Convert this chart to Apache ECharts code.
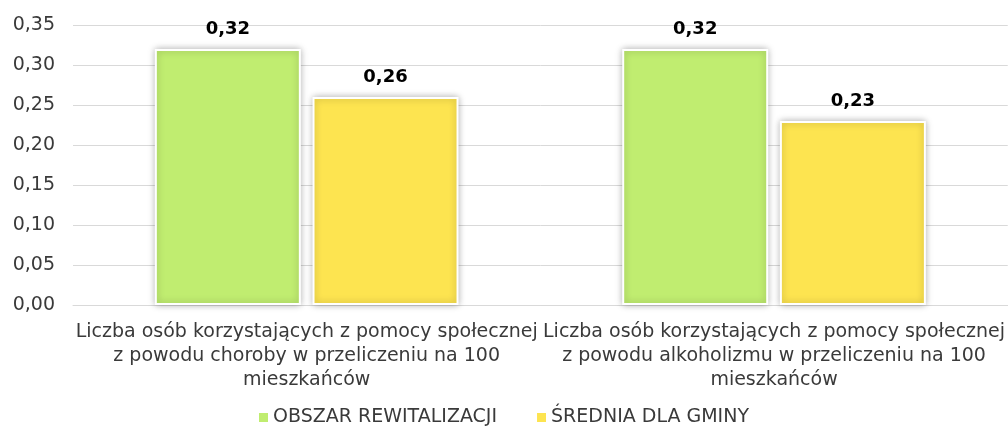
<!DOCTYPE html>
<html>
<head>
<meta charset="utf-8">
<script src="https://cdn.jsdelivr.net/npm/echarts@6/dist/echarts.min.js"></script>
<style>
  html, body { margin: 0; padding: 0; background: #fff; }
  #chart { width: 1008px; height: 435px; }
</style>
</head>
<body>
<div id="chart"></div>
<script>
// Categories, series and axis settings
const categories = [
  'Liczba osób korzystających z pomocy społecznej\nz powodu choroby w przeliczeniu na 100\nmieszkańców',
  'Liczba osób korzystających z pomocy społecznej\nz powodu alkoholizmu w przeliczeniu na 100\nmieszkańców'
];
const seriesNames = ['OBSZAR REWITALIZACJI', 'ŚREDNIA DLA GMINY'];
const obszarValues = [0.32, 0.32];
const gminaValues = [0.26, 0.23];
const yMin = 0, yMax = 0.35, yStep = 0.05;

const FONT = 'DejaVu Sans';
const TEXT = '#3a3a3a';
const fmt = v => v.toFixed(2).replace('.', ',');

const chart = echarts.init(document.getElementById('chart'));

const barStyle = color => ({
  color: color,
  borderColor: '#ffffff',
  borderWidth: 2,
  shadowColor: 'rgba(0,0,0,0.3)',
  shadowBlur: 7
});

const valueLabel = {
  show: true,
  position: 'top',
  distance: 11,
  formatter: p => fmt(p.value),
  fontFamily: FONT,
  fontSize: 18,
  fontWeight: 'bold',
  color: '#000'
};

chart.setOption({
  animation: false,
  textStyle: { fontFamily: FONT },
  grid: { left: 73, right: 0, top: 25, bottom: 130, containLabel: false },
  legend: {
    bottom: 3,
    left: 'center',
    itemWidth: 9,
    itemHeight: 9,
    itemGap: 40,
    icon: 'rect',
    itemStyle: { borderWidth: 0, shadowBlur: 0 },
    textStyle: { fontFamily: FONT, fontSize: 19, color: TEXT },
    data: seriesNames
  },
  xAxis: {
    type: 'category',
    data: categories,
    axisTick: { show: false },
    axisLine: { lineStyle: { color: '#d9d9d9', width: 1 } },
    axisLabel: {
      interval: 0,
      margin: 15,
      fontFamily: FONT,
      fontSize: 19,
      lineHeight: 24,
      color: TEXT,
      align: 'center'
    }
  },
  yAxis: {
    type: 'value',
    min: yMin,
    max: yMax,
    interval: yStep,
    axisLine: { show: false },
    axisTick: { show: false },
    splitLine: { lineStyle: { color: '#d9d9d9', width: 1 } },
    axisLabel: {
      formatter: fmt,
      margin: 18,
      fontFamily: FONT,
      fontSize: 19,
      color: TEXT
    }
  },
  series: [
    {
      name: seriesNames[0],
      type: 'bar',
      data: obszarValues,
      barWidth: 146,
      barGap: '8%',
      itemStyle: barStyle('#c0ed70'),
      label: valueLabel
    },
    {
      name: seriesNames[1],
      type: 'bar',
      data: gminaValues,
      barWidth: 146,
      itemStyle: barStyle('#fde450'),
      label: valueLabel
    }
  ]
});
</script>
</body>
</html>
